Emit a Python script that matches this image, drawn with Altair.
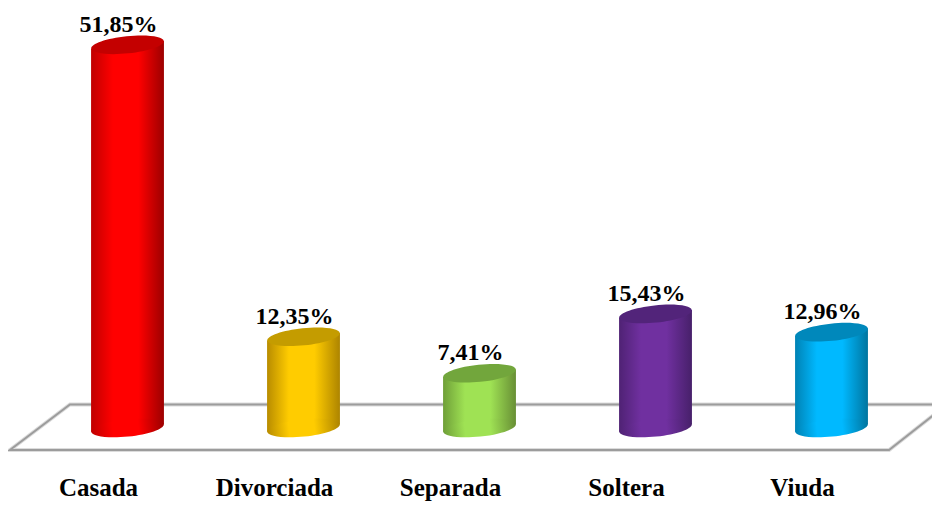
import altair as alt
import pandas as pd

categories = ["Casada", "Divorciada", "Separada", "Soltera", "Viuda"]
values = [51.85, 12.35, 7.41, 15.43, 12.96]
value_labels = ["51,85%", "12,35%", "7,41%", "15,43%", "12,96%"]
edge_left = ["#c00000", "#b88c00", "#6f9f38", "#4f2274", "#0082b4"]
centre = ["#ff0000", "#ffcc00", "#9fe254", "#7030a0", "#00b9ff"]
edge_right = ["#9c0000", "#ad8400", "#688f35", "#47206a", "#00759f"]
caps = ["#c40000", "#c49c00", "#72a63c", "#52247a", "#0088bb"]

floor_x = [4.62, -0.327, -0.668, 4.327, 4.616]
floor_y = [3.18, 3.18, -2.98, -2.98, 2.44]

HALF = 0.207
TILT = 0.52
ELLIPSE = "M -1 0 A 1 0.235 0 1 1 1 0 A 1 0.235 0 1 1 -1 0 Z"

xs = alt.Scale(domain=[-0.679, 4.571], nice=False, zero=False)
ys = alt.Scale(domain=[-10.42, 56.83], nice=False, zero=False)
X = lambda f: alt.X(f, type="quantitative", scale=xs, axis=None)
Y = lambda f: alt.Y(f, type="quantitative", scale=ys, axis=None)

floor = pd.DataFrame({"x": floor_x, "y": floor_y, "o": range(len(floor_x))})
floor_under = alt.Chart(floor).mark_line(color="#dcdcdc", strokeWidth=4, clip=True).encode(
    x=X("x"), y=Y("y"), order="o:Q")
floor_line = alt.Chart(floor).mark_line(color="#9c9c9c", strokeWidth=2, clip=True).encode(
    x=X("x"), y=Y("y"), order="o:Q")

layers = [floor_under, floor_line]
for i, (cat, v) in enumerate(zip(categories, values)):
    grad = alt.Gradient(
        gradient="linear", x1=0, x2=1, y1=0, y2=0,
        stops=[
            alt.GradientStop(offset=0, color=edge_left[i]),
            alt.GradientStop(offset=0.3, color=centre[i]),
            alt.GradientStop(offset=0.65, color=centre[i]),
            alt.GradientStop(offset=1, color=edge_right[i]),
        ],
    )
    body = pd.DataFrame({
        "x": [i - HALF, i + HALF],
        "y": [v - TILT, v + TILT],
        "y0": [-TILT, TILT],
    })
    layers.append(alt.Chart(body).mark_area(fill=grad).encode(
        x=X("x"), y=Y("y"), y2=alt.Y2("y0")))
    base_cap = pd.DataFrame({"x": [i], "y": [0.0]})
    layers.append(alt.Chart(base_cap).mark_point(
        shape=ELLIPSE, size=5329, angle=354, filled=True, fill=grad, opacity=1
    ).encode(x=X("x"), y=Y("y")))
    top_cap = pd.DataFrame({"x": [i], "y": [v]})
    layers.append(alt.Chart(top_cap).mark_point(
        shape=ELLIPSE, size=5329, angle=354, filled=True, fill=caps[i], opacity=1
    ).encode(x=X("x"), y=Y("y")))

table = pd.DataFrame({
    "pos": range(len(categories)),
    "value": values,
    "label": value_labels,
    "cat": categories,
    "baseline": [-8.1] * len(categories),
})
FONT = "Liberation Serif"
value_text = alt.Chart(table).mark_text(
    font=FONT, fontWeight="bold", fontSize=24, color="#000000", dx=-9, dy=-20
).encode(x=X("pos"), y=Y("value"), text="label:N")
cat_text = alt.Chart(table).mark_text(
    font=FONT, fontWeight="bold", fontSize=25, color="#000000", dx=-29
).encode(x=X("pos"), y=Y("baseline"), text="cat:N")

chart = alt.layer(*layers, value_text, cat_text).properties(
    width=924, height=497, padding=0,
    autosize=alt.AutoSizeParams(type="none"),
).configure_view(stroke=None)

chart.save("out.html", embed_options={"renderer": "svg", "actions": False})
